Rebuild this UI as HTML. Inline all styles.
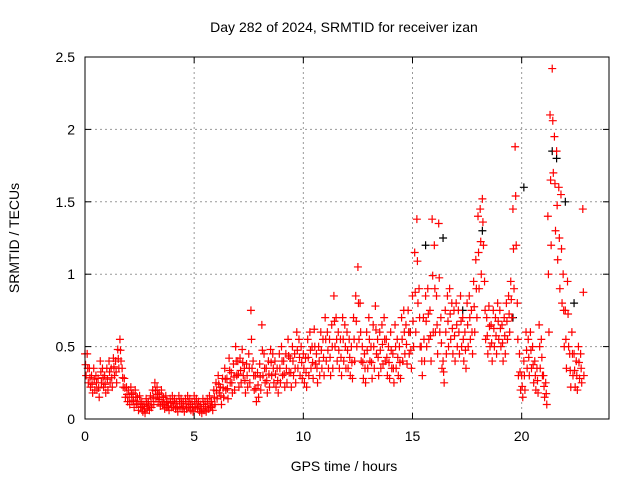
<!DOCTYPE html>
<html><head><meta charset="utf-8"><style>
body{margin:0;background:#fff}
svg text{font-family:"Liberation Sans",sans-serif;font-size:14px;fill:#000}
</style></head><body>
<svg id="chart" width="640" height="480" xmlns="http://www.w3.org/2000/svg">
<rect width="640" height="480" fill="#fff"/>
<text x="344" y="32" text-anchor="middle">Day 282 of 2024, SRMTID for receiver izan</text>
<text x="344" y="471" text-anchor="middle">GPS time / hours</text>
<text transform="translate(19,238) rotate(-90)" text-anchor="middle">SRMTID / TECUs</text>
<g id="grid"></g><g id="ticks"></g><g id="marks"></g>
<rect x="85" y="57" width="524" height="362" fill="none" stroke="#000" stroke-width="1"/>
</svg>
<script>
const xTicks=[0,5,10,15,20];
const yTicks=[0,0.5,1,1.5,2,2.5];
const yTickLabels=["0","0.5","1","1.5","2","2.5"];
const tStart=0, tStep=0.1;
const hiVals=[0.45,0.45,0.35,0.3,0.35,0.3,0.28,0.4,0.35,0.3,
0.35,0.4,0.35,0.42,0.4,0.48,0.55,0.35,0.28,0.22,
0.2,0.22,0.18,0.2,0.15,0.16,0.12,0.1,0.14,0.12,
0.16,0.2,0.25,0.22,0.18,0.2,0.15,0.16,0.12,0.14,
0.16,0.14,0.12,0.16,0.14,0.12,0.14,0.16,0.14,0.12,
0.16,0.14,0.12,0.1,0.14,0.12,0.14,0.16,0.12,0.2,
0.25,0.3,0.22,0.28,0.35,0.28,0.42,0.32,0.38,0.5,
0.4,0.42,0.48,0.35,0.38,0.45,0.75,0.4,0.3,0.32,
0.38,0.65,0.45,0.35,0.4,0.48,0.45,0.4,0.35,0.45,
0.5,0.4,0.45,0.55,0.42,0.5,0.45,0.6,0.55,0.5,
0.45,0.42,0.55,0.6,0.5,0.62,0.45,0.5,0.6,0.55,
0.7,0.6,0.55,0.65,0.85,0.7,0.6,0.55,0.7,0.65,
0.6,0.55,0.5,0.7,0.85,1.05,0.8,0.5,0.45,0.6,
0.7,0.5,0.65,0.78,0.55,0.6,0.65,0.7,0.55,0.5,
0.6,0.45,0.65,0.55,0.5,0.7,0.75,0.65,0.75,0.6,
0.85,1.15,1.38,0.9,0.5,0.7,0.85,0.9,0.75,1.38,
1.2,0.85,1.35,0.7,0.4,0.75,0.85,0.9,0.8,0.75,
0.8,0.75,0.85,0.7,0.6,0.8,0.85,0.75,0.95,1.1,
1.4,1.45,1.52,0.95,0.7,0.78,0.65,0.75,0.7,0.8,
0.75,0.65,0.7,0.8,0.85,0.95,1.45,1.88,0.8,0.45,
0.3,0.4,0.6,0.55,0.6,0.5,0.4,0.35,0.65,0.55,
0.3,0.25,1.4,2.1,2.42,1.95,1.85,1.6,1.55,1.0,
0.75,0.95,0.45,0.6,0.45,0.4,0.5,0.45,1.45];
const loVals=[0.3,0.25,0.22,0.18,0.2,0.2,0.15,0.25,0.22,0.18,
0.2,0.25,0.22,0.3,0.25,0.35,0.4,0.22,0.15,0.12,
0.1,0.12,0.08,0.1,0.06,0.08,0.05,0.04,0.07,0.06,
0.08,0.1,0.14,0.12,0.09,0.1,0.07,0.08,0.06,0.08,
0.08,0.07,0.05,0.08,0.07,0.05,0.07,0.08,0.06,0.05,
0.08,0.07,0.05,0.04,0.06,0.05,0.07,0.08,0.06,0.1,
0.14,0.18,0.1,0.15,0.2,0.14,0.25,0.18,0.2,0.3,
0.22,0.25,0.3,0.18,0.22,0.25,0.35,0.2,0.12,0.15,
0.2,0.3,0.25,0.18,0.22,0.3,0.25,0.22,0.18,0.25,
0.3,0.22,0.25,0.32,0.22,0.3,0.25,0.35,0.3,0.28,
0.25,0.22,0.3,0.35,0.28,0.38,0.25,0.3,0.35,0.3,
0.4,0.35,0.3,0.35,0.5,0.4,0.35,0.3,0.4,0.35,
0.35,0.3,0.28,0.4,0.5,0.55,0.4,0.28,0.25,0.35,
0.4,0.28,0.35,0.45,0.3,0.35,0.38,0.4,0.3,0.28,
0.35,0.25,0.35,0.3,0.28,0.4,0.45,0.38,0.45,0.35,
0.5,0.6,0.8,0.5,0.3,0.4,0.5,0.55,0.4,0.6,
0.6,0.45,0.6,0.35,0.25,0.45,0.5,0.55,0.45,0.4,
0.5,0.45,0.5,0.4,0.35,0.5,0.55,0.45,0.6,0.7,
0.9,1.0,1.2,0.55,0.45,0.5,0.4,0.5,0.45,0.55,
0.5,0.4,0.45,0.55,0.6,0.7,0.9,1.2,0.3,0.2,
0.15,0.2,0.35,0.3,0.35,0.25,0.2,0.18,0.35,0.3,
0.15,0.1,0.6,1.2,1.7,1.3,1.1,0.9,0.8,0.5,
0.35,0.5,0.22,0.3,0.22,0.2,0.28,0.25,0.3];
const blackTimes=[14.9,15.6,16.4,17.3,18.2,19.6,20.1,21.4,21.6,22.0,22.4];
const blackVals=[0.6,1.2,1.25,0.75,1.3,0.7,1.6,1.85,1.8,1.5,0.8];

const X0=85,X1=609,Y0=419,Y1=57,XMAX=24,YMAX=2.5;
const sx=v=>X0+(v/XMAX)*(X1-X0);
const sy=v=>Y0-(v/YMAX)*(Y0-Y1);
const NS="http://www.w3.org/2000/svg";
const grid=document.getElementById('grid'),ticks=document.getElementById('ticks'),marks=document.getElementById('marks');
function mk(tag,attrs,parent){const e=document.createElementNS(NS,tag);for(const k in attrs)e.setAttribute(k,attrs[k]);parent.appendChild(e);return e;}
xTicks.forEach(t=>{
  const x=sx(t);
  if(t>0){const g=mk('line',{x1:x,x2:x,y1:Y1,y2:Y0,stroke:'#999','stroke-dasharray':'2,3'},grid);
  
  }
  mk('line',{x1:x,x2:x,y1:Y0,y2:Y0-6,stroke:'#000'},ticks);
  mk('line',{x1:x,x2:x,y1:Y1,y2:Y1+6,stroke:'#000'},ticks);
  const l=mk('text',{x:x,y:Y0+22,'text-anchor':'middle'},ticks);l.textContent=t;
  
  
});
yTicks.forEach((t,i)=>{
  const y=sy(t);
  if(t>0&&t<YMAX){const g=mk('line',{x1:X0,x2:X1,y1:y,y2:y,stroke:'#999','stroke-dasharray':'2,3'},grid);
  
  }
  mk('line',{x1:X0,x2:X0+6,y1:y,y2:y,stroke:'#000'},ticks);
  mk('line',{x1:X1,x2:X1-6,y1:y,y2:y,stroke:'#000'},ticks);
  const l=mk('text',{x:X0-10,y:y+5,'text-anchor':'end'},ticks);l.textContent=yTickLabels[i];
  
  
});
function plus(x,y,col,name){
  const p=mk('path',{d:`M${x-4},${y}h8M${x},${y-4}v8`,stroke:col,'stroke-width':1.2,fill:'none'},marks);
  
  
}
blackVals.forEach((v,i)=>plus(sx(blackTimes[i]),sy(v),'#000','black-point'));
hiVals.forEach((v,i)=>{
  const t=tStart+i*tStep;
  const lo=loVals[i];
  plus(sx(t),sy(v),'#f00','srmtid-point');
  plus(sx(t+tStep/2),sy(lo),'#f00','srmtid-point');
  plus(sx(t+tStep/4),sy((v+lo)/2),'#f00','srmtid-point');
});
</script>
</body></html>
